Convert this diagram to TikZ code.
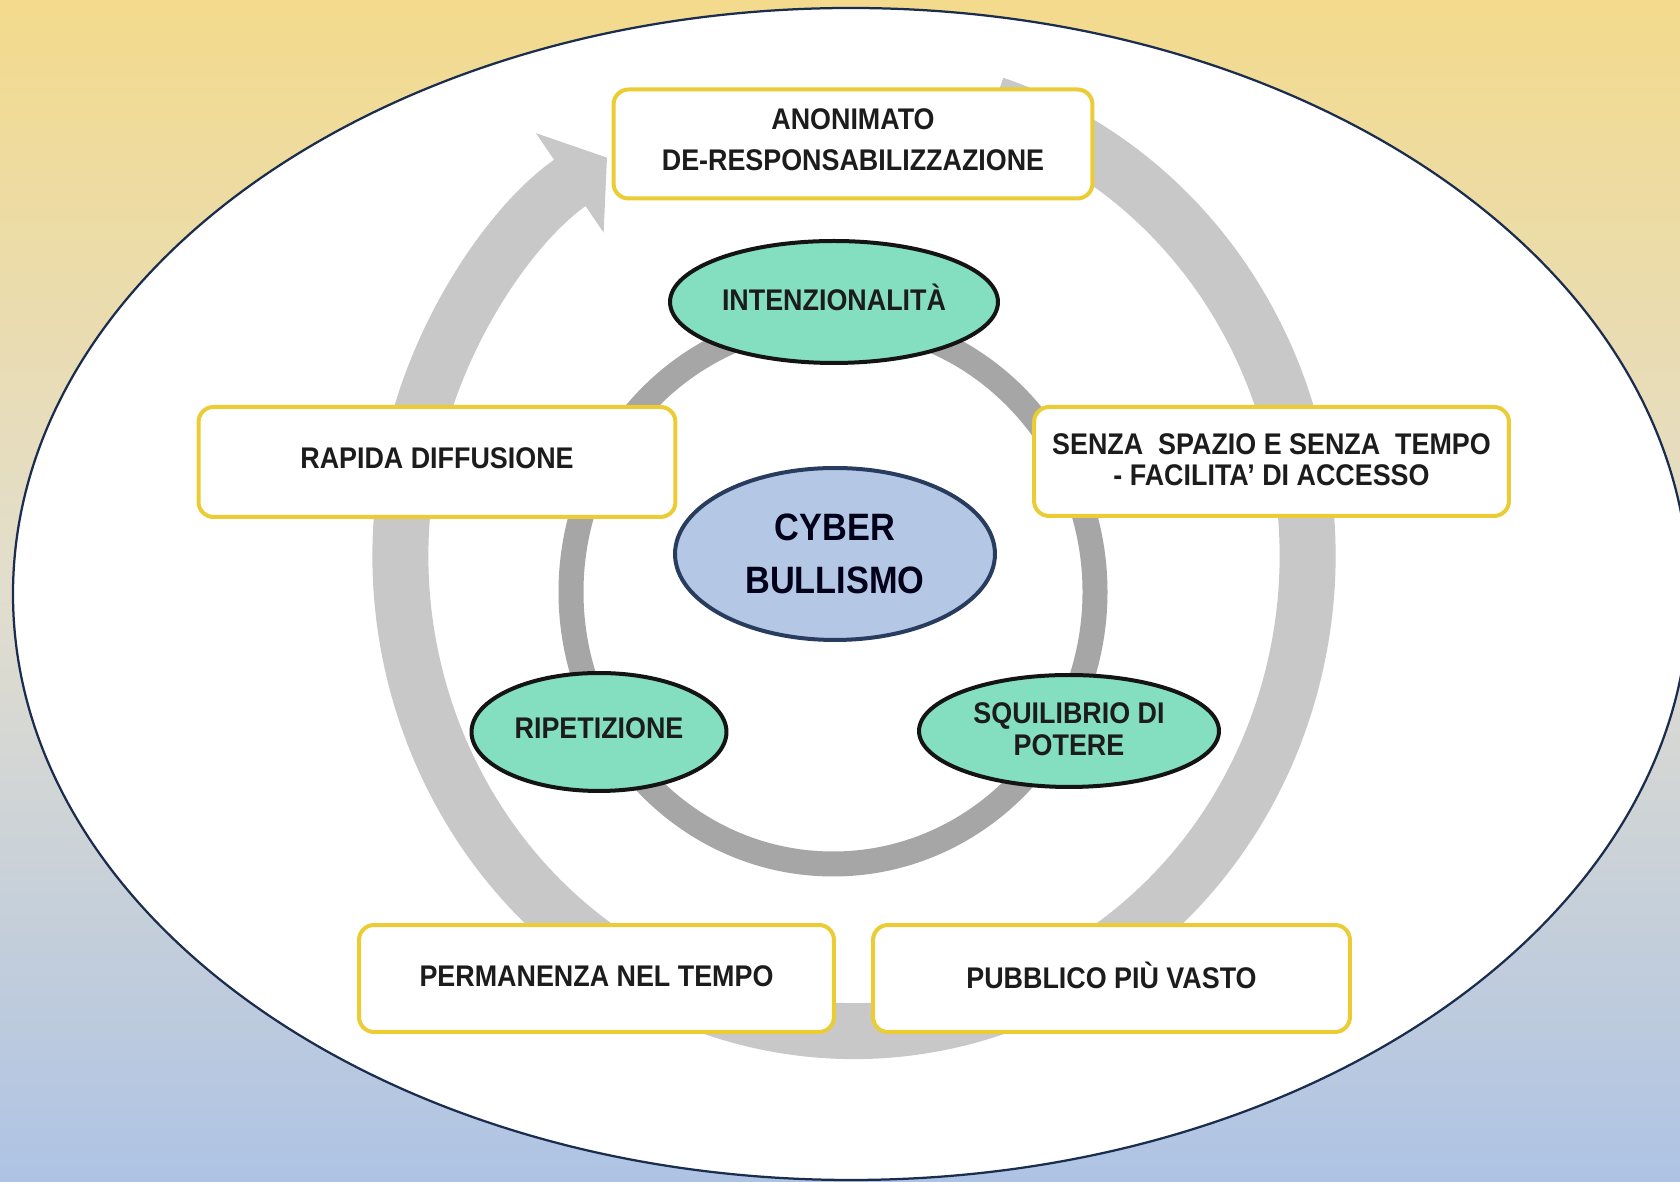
\documentclass[tikz,border=0pt]{standalone}
\usepackage{fontspec}
\setmainfont[FakeStretch=0.9]{Liberation Sans}
\usetikzlibrary{shapes.geometric,arrows.meta}
\definecolor{bgtop}{RGB}{243,218,140}
\definecolor{bgmid}{RGB}{226,222,206}
\definecolor{bgbot}{RGB}{174,195,228}
\definecolor{navy}{RGB}{27,45,79}
\definecolor{ringout}{RGB}{200,200,200}
\definecolor{ringin}{RGB}{166,166,166}
\definecolor{boxy}{RGB}{236,204,52}
\definecolor{greenf}{RGB}{132,222,192}
\definecolor{bluef}{RGB}{180,199,229}
\definecolor{blueb}{RGB}{40,60,95}
\definecolor{txt}{RGB}{28,28,28}
\newcommand\lift[1]{\rule[-#1]{0pt}{0pt}}
\begin{document}
\begin{tikzpicture}[x=0.02cm,y=0.02cm,
  ybox/.style={draw=boxy, line width=0.08cm, fill=white, rounded corners=0.3cm,
    inner sep=0pt, outer sep=0pt, align=center, text=txt,
    font=\bfseries\fontsize{17}{23.8}\selectfont},
  gell/.style={ellipse, draw=black!92, line width=0.08cm, fill=greenf,
    inner sep=0pt, outer sep=0pt, align=center, text=txt,
    font=\bfseries\fontsize{17}{18.1}\selectfont},
  bell/.style={ellipse, draw=blueb, line width=0.08cm, fill=bluef,
    inner sep=0pt, outer sep=0pt, align=center, text=black!90!blue,
    font=\bfseries\fontsize{21.7}{30.6}\selectfont}
]
\useasboundingbox (0,0) rectangle (1680,1182);
\clip (0,0) rectangle (1680,1182);
% background
\shade[top color=bgtop, bottom color=bgbot, middle color=bgmid] (0,0) rectangle (1680,1182);
% big ellipse
\draw[navy, line width=0.045cm, fill=white] (851,588) ellipse [x radius=838, y radius=586];
% outer ring with arrow
\coordinate (oc) at (854,626);
\draw[ringout, line width=1.12cm, -{Triangle[length=0.9cm, width=2.36cm]}]
  ([shift={(oc)}]72:453.5 and 475) arc [start angle=72, end angle=-237, x radius=453.5, y radius=475];
% inner ring
\coordinate (ic) at (833,590);
\draw[ringin, line width=0.5cm] (ic) ellipse [x radius=262, y radius=272];
% boxes
\node[ybox, minimum width=9.58cm, minimum height=2.18cm] (anon) at (853,1038) {ANONIMATO\\DE-RESPONSABILIZZAZIONE\lift{5pt}};
\node[ybox, minimum width=9.54cm, minimum height=2.2cm] (rapida) at (437,720) {RAPIDA DIFFUSIONE\lift{4pt}};
\node[ybox, minimum width=9.5cm, minimum height=2.18cm, font=\bfseries\fontsize{17}{17.6}\selectfont] (senza) at (1271.5,720.5) {SENZA\ \ SPAZIO E SENZA\ \ TEMPO\\- FACILITA’ DI ACCESSO\lift{2.5pt}};
\node[ybox, minimum width=9.5cm, minimum height=2.14cm] (perm) at (596.5,203.5) {PERMANENZA NEL TEMPO\lift{2.5pt}};
\node[ybox, minimum width=9.54cm, minimum height=2.14cm] (pubb) at (1111.5,203.5) {PUBBLICO PI\smash{Ù} VASTO};
% ellipses
\node[gell, minimum width=6.56cm, minimum height=2.44cm] (intenz) at (834,880) {INTENZIONALIT\smash{À}\lift{2.5pt}};
\node[gell, minimum width=5.1cm, minimum height=2.36cm] (ripet) at (599,450) {RIPETIZIONE\lift{5pt}};
\node[gell, minimum width=6.0cm, minimum height=2.24cm] (squil) at (1069,451) {SQUILIBRIO DI\\POTERE\lift{2.5pt}};
\node[bell, minimum width=6.4cm, minimum height=3.44cm] (cyber) at (835,628) {CYBER\\BULLISMO};
\end{tikzpicture}
\end{document}
